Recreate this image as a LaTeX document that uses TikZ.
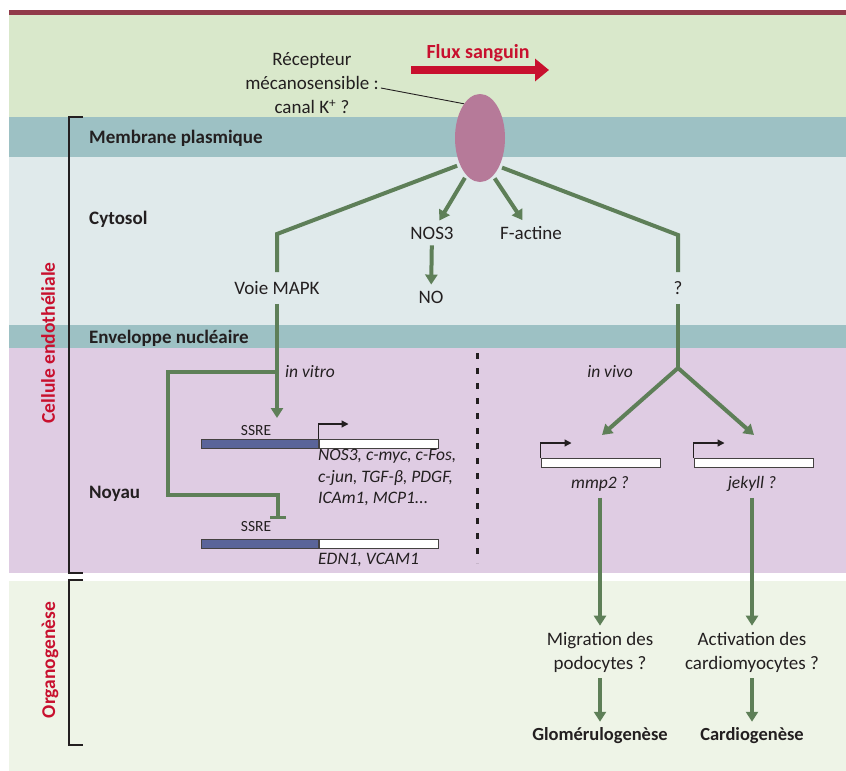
\documentclass[tikz,border=0pt]{standalone}
\usepackage{fontspec}
\setmainfont{Carlito}
\usetikzlibrary{arrows.meta,shapes.geometric,calc}

\definecolor{topRed}{RGB}{145,58,74}
\definecolor{skyGreen}{RGB}{217,232,203}
\definecolor{membTeal}{RGB}{157,193,196}
\definecolor{cytoGrey}{RGB}{224,234,235}
\definecolor{nucLilac}{RGB}{223,204,227}
\definecolor{organGreen}{RGB}{238,244,231}
\definecolor{pathGreen}{RGB}{94,127,88}
\definecolor{recMauve}{RGB}{182,122,153}
\definecolor{fluxRed}{RGB}{200,16,46}
\definecolor{ssreBlue}{RGB}{90,100,153}
\definecolor{inkBlack}{RGB}{35,31,32}

\begin{document}
\begin{tikzpicture}
[x=1pt,y=-1pt,
  pathDecorate/.style={draw=pathGreen,line width=4pt},
  arrowDecorate/.style={pathDecorate,-{Triangle[length=10pt,width=12pt]}},
  promDecorate/.style={draw=inkBlack,line width=1.3pt,-{Triangle[length=7pt,width=7pt]}},
  bracketDecorate/.style={draw=inkBlack,line width=2.5pt},
  labelDecorate/.style={text=inkBlack,font=\fontsize{19}{24}\selectfont,inner sep=6pt,align=center},
  layerDecorate/.style={text=inkBlack,font=\fontsize{19}{22}\selectfont\bfseries,anchor=base west,inner sep=0pt},
  organDecorate/.style={text=inkBlack,font=\fontsize{18.5}{22}\selectfont\bfseries,inner sep=6pt},
  geneDecorate/.style={text=inkBlack,font=\fontsize{17.5}{21.5}\selectfont\itshape,inner sep=6pt},
  ssreDecorate/.style={text=inkBlack,font=\fontsize{15.5}{17}\selectfont,inner sep=1pt},
  sideDecorate/.style={text=fluxRed,font=\fontsize{19.5}{22}\selectfont\bfseries,rotate=90},
  boxDecorate/.style={draw=inkBlack!85,line width=1pt,fill=white,minimum height=9pt,inner sep=0pt},
  scale=1]
\useasboundingbox (0,0) rectangle (846,771);
%% bands of the cell
\foreach \bandname/\ytop/\ybot/\bandcol in {
  sky/15/117/skyGreen, memb/117/157/membTeal, cyto/157/325/cytoGrey,
  env/325/348/membTeal, nuc/348/573/nucLilac, organ/581/771/organGreen}
{
  \fill[\bandcol] (9,\ytop) rectangle (846,\ybot);
}
\fill[topRed] (9,10) rectangle (846,15);
%% layer names
\node (membLbl) at (89,143) [layerDecorate] {Membrane plasmique};
\node (cytoLbl) at (89,224) [layerDecorate] {Cytosol};
\node (envLbl) at (89,343) [layerDecorate] {Enveloppe nucléaire};
\node (nucLbl) at (89,498) [layerDecorate] {Noyau};
\node (celLbl) at (48,343) [sideDecorate] {Cellule endothéliale};
\node (orgLbl) at (50,660) [sideDecorate] {Organogenèse};
\draw[bracketDecorate] (83,117) -- (69,117) -- (69,573) -- (83,573);
\draw[bracketDecorate] (83,580) -- (69,580) -- (69,745) -- (83,745);
%% receptor and flow
\node (rec) at (480,138) [ellipse,fill=recMauve,minimum width=50pt,minimum height=88pt,inner sep=0pt] {};
\node (recLbl) at (312,83) [labelDecorate,inner sep=2pt] {Récepteur\\mécanosensible :\\canal K\textsuperscript{+} ?};
\draw[inkBlack,line width=0.9pt] ($(recLbl.east)+(0,5)$) -- (rec.115);
\node (flux) at (478,53) [text=fluxRed,font=\fontsize{20}{22}\selectfont\bfseries] {Flux sanguin};
\coordinate (fluxL) at (411,70);
\coordinate (fluxR) at (549,70);
\draw[fluxRed,line width=7.5pt,-{Triangle[length=14pt,width=22pt]}] (fluxL) -- (fluxR);
%% cytosol
\coordinate (mapkTop) at (277,234);
\coordinate (qTop) at (678,235);
\node (mapk) at (277,288) [labelDecorate,inner sep=9pt] {Voie MAPK};
\node (qMark) at (678,288) [labelDecorate,inner sep=9pt] {?};
\node (nos) at (432,233) [labelDecorate] {NOS3};
\node (no) at (431,297) [labelDecorate] {NO};
\node (fact) at (531,233) [labelDecorate] {F-actine};
\path
\foreach \startnode/\endnode in {rec.250/nos, rec.289/fact}
{
  (\startnode) edge[arrowDecorate,shorten <=3pt] (\endnode)
};
\draw[arrowDecorate] (nos) -- (no);
\draw[pathDecorate,shorten <=3pt] (rec.233) -- (mapkTop) -- (mapk);
\draw[pathDecorate,shorten <=3pt] (rec.304) -- (qTop) -- (qMark);
%% nucleus, in vitro
\coordinate (vitroJ) at (277,372);
\coordinate (ssreIn) at (277,418);
\coordinate (fbL) at (168,372);
\coordinate (fbR) at (278,495);
\coordinate (fbEnd) at (278,519);
\node (vitroLbl) at (285,372) [geneDecorate,anchor=west,inner sep=0pt] {in vitro};
\node (ssreA) at (256,431) [ssreDecorate] {SSRE};
\node (ssreBoxA) at (259.5,444) [boxDecorate,fill=ssreBlue,minimum width=117pt] {};
\node (geneBoxA) at (ssreBoxA.east) [boxDecorate,anchor=west,minimum width=119pt] {};
\node (listA) at (318,449) [geneDecorate,anchor=north west,align=left,inner sep=0pt] {NOS3, c-myc, c-Fos,\\c-jun, TGF-β, PDGF,\\ICAm1, MCP1...};
\node (ssreB) at (256,527) [ssreDecorate] {SSRE};
\node (ssreBoxB) at (259.5,544) [boxDecorate,fill=ssreBlue,minimum width=117pt] {};
\node (geneBoxB) at (ssreBoxB.east) [boxDecorate,anchor=west,minimum width=119pt] {};
\node (listB) at (318,560) [geneDecorate,anchor=west,inner sep=0pt] {EDN1, VCAM1};
\draw[arrowDecorate] (mapk) -- (vitroJ) -- (ssreIn);
\draw[pathDecorate,-{Bar[width=16pt,line width=3pt]}] (vitroJ) -- (fbL) |- (fbR) -- (fbEnd);
\draw[promDecorate] (geneBoxA.north west) -- ++(0,-15) -- ++(30,0);
%% divider
\coordinate (divTop) at (477,353);
\coordinate (divBot) at (477,563);
\draw[inkBlack,line width=3pt,dash pattern=on 6pt off 9pt] (divTop) -- (divBot);
%% nucleus, in vivo
\coordinate (vivoJ) at (678,368);
\coordinate (mmpIn) at (602,435);
\coordinate (jekIn) at (754,435);
\node (vivoLbl) at (610,372) [geneDecorate,inner sep=0pt] {in vivo};
\node (mmpBox) at (600.5,463) [boxDecorate,minimum width=119pt] {};
\node (jekBox) at (753.5,463) [boxDecorate,minimum width=119pt] {};
\node (mmpLbl) at (600,484) [geneDecorate] {mmp2 ?};
\node (jekLbl) at (752,484) [geneDecorate] {jekyll ?};
\draw[pathDecorate] (qMark) -- (vivoJ);
\path
\foreach \startnode/\endnode in {vivoJ/mmpIn, vivoJ/jekIn}
{
  (\startnode) edge[arrowDecorate] (\endnode)
};
\foreach \boxname in {mmpBox, jekBox}
{
  \draw[promDecorate] (\boxname.north west) -- ++(0,-15) -- ++(31,0);
}
%% organogenesis
\node (migr) at (600,652) [labelDecorate] {Migration des\\podocytes ?};
\node (activ) at (752,652) [labelDecorate] {Activation des\\cardiomyocytes ?};
\node (glom) at (600,736) [organDecorate] {Glomérulogenèse};
\node (cardio) at (752,736) [organDecorate] {Cardiogenèse};
\path
\foreach \startnode/\endnode in {mmpLbl/migr, jekLbl/activ, migr/glom, activ/cardio}
{
  (\startnode) edge[arrowDecorate] (\endnode)
};
\end{tikzpicture}
\end{document}
